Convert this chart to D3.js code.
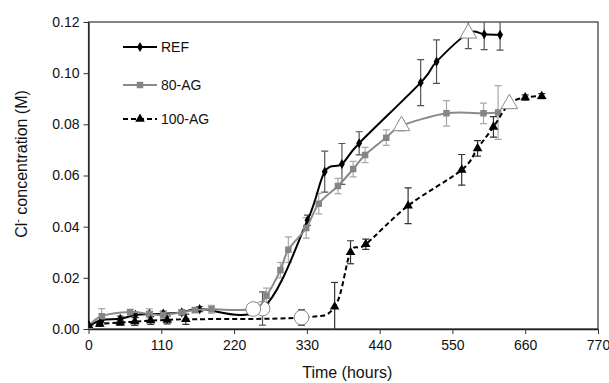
<!DOCTYPE html>
<html>
<head>
<meta charset="utf-8">
<script src="https://cdn.jsdelivr.net/npm/d3@7"></script>
<style>
  body { margin: 0; background: #fff; }
  text { font-family: "Liberation Sans", Arial, sans-serif; }
</style>
</head>
<body>
<div id="chart"></div>
<script>
// values: time (h), Cl- (M), +/- error
const refTime = [0, 20, 48, 71, 92, 113, 141, 168, 263, 331, 357, 383, 409, 502, 526, 574, 598, 622];
const refCl   = [0.001, 0.0035, 0.004, 0.0055, 0.0058, 0.006, 0.0065, 0.0078, 0.008, 0.0425, 0.0615, 0.0645, 0.0726, 0.0963, 0.1045, 0.1156, 0.1152, 0.115];
const refErr  = [0, 0.001, 0.001, 0.001, 0.001, 0.001, 0.001, 0.001, 0.0065, 0.002, 0.008, 0.008, 0.0045, 0.009, 0.0085, 0.006, 0.006, 0.006];

const ag80Time = [0, 20, 63, 92, 113, 141, 161, 186, 249, 269, 290, 302, 329, 348, 377, 400, 418, 450, 473, 541, 597, 619];
const ag80Cl   = [0.001, 0.005, 0.0066, 0.0059, 0.0055, 0.0065, 0.0074, 0.0077, 0.0078, 0.013, 0.023, 0.031, 0.0395, 0.049, 0.0559, 0.0625, 0.068, 0.0748, 0.0794, 0.0843, 0.0843, 0.0846];
const ag80Err  = [0, 0.003, 0.001, 0.002, 0.0015, 0.001, 0.001, 0.0015, 0.0015, 0.003, 0.003, 0.005, 0.004, 0.004, 0.003, 0.003, 0.003, 0.003, 0.002, 0.005, 0.004, 0.0105];

const ag100Time = [0, 17, 48, 70, 94, 119, 147, 322, 372, 396, 419, 483, 564, 588, 612, 636, 660, 685];
const ag100Cl   = [0.0015, 0.002, 0.0025, 0.0029, 0.0033, 0.0035, 0.0038, 0.0045, 0.0087, 0.030, 0.0331, 0.0482, 0.0622, 0.0706, 0.079, 0.088, 0.0905, 0.091];
const ag100Err  = [0, 0.001, 0.001, 0.0015, 0.0015, 0.0015, 0.002, 0.003, 0.0095, 0.0045, 0.002, 0.007, 0.006, 0.003, 0.004, 0, 0.001, 0.001];

// times where the point is drawn as an open marker
const refOpenCircle = [263];
const refOpenTriangle = [574];
const ag80OpenCircle = [249];
const ag80OpenTriangle = [473];
const ag100OpenCircle = [322];
const ag100OpenTriangle = [636];

const seriesNames = ["REF", "80-AG", "100-AG"];
const xTicks = [0, 110, 220, 330, 440, 550, 660, 770];
const yTicks = [0, 0.02, 0.04, 0.06, 0.08, 0.10, 0.12];

const W = 609, H = 383;
const margin = { top: 22, right: 11, bottom: 54, left: 88.5 };
const width = W - margin.left - margin.right,
      height = H - margin.top - margin.bottom;

const svg = d3.select("#chart").append("svg")
    .attr("width", W)
    .attr("height", H);

const g = svg.append("g")
    .attr("transform", `translate(${margin.left},${margin.top})`);

const x = d3.scaleLinear().domain([0, 770]).range([0, width]);
const y = d3.scaleLinear().domain([0, 0.12]).range([height, 0]);

g.append("clipPath").attr("id", "plot-clip")
    .append("rect").attr("x", 0).attr("y", 0).attr("width", width).attr("height", height);

// frame
g.append("rect")
    .attr("width", width).attr("height", height)
    .attr("fill", "none").attr("stroke", "#333").attr("stroke-width", 1.2);

const xAxis = g.append("g")
    .attr("transform", `translate(0,${height})`)
    .call(d3.axisBottom(x).tickValues(xTicks).tickSize(5).tickSizeOuter(0).tickPadding(6));
const yAxis = g.append("g")
    .call(d3.axisLeft(y).tickValues(yTicks).tickFormat(d3.format(".2f")).tickSize(5).tickSizeOuter(0).tickPadding(4));
[xAxis, yAxis].forEach(a => {
    a.select(".domain").attr("stroke", "#222").attr("stroke-width", 1.3);
    a.selectAll(".tick line").attr("stroke", "#333");
    a.selectAll("text").attr("font-size", 14).attr("fill", "#111")
        .style("font-family", "'Liberation Sans', Arial, sans-serif");
});

// axis titles
svg.append("text")
    .attr("x", margin.left + width / 2 + 4).attr("y", 378)
    .attr("text-anchor", "middle").attr("font-size", 16).attr("fill", "#111")
    .text("Time (hours)");

const yTitle = svg.append("text")
    .attr("transform", "translate(27,164) rotate(-90)")
    .attr("text-anchor", "middle").attr("font-size", 16).attr("fill", "#111");
yTitle.append("tspan").text("Cl");
yTitle.append("tspan").attr("dy", -6).attr("font-size", 11).text("-");
yTitle.append("tspan").attr("dy", 6).text(" concentration (M)");

function makeSeries(t, v, e, openC, openT) {
    return t.map((d, i) => ({
        t: d, v: v[i], e: e[i],
        open: openC.includes(d) ? "circle" : (openT.includes(d) ? "triangle" : null)
    }));
}

const series = [
    { name: seriesNames[0], data: makeSeries(refTime, refCl, refErr, refOpenCircle, refOpenTriangle),
      line: "#000", dash: null, errColor: "#555", marker: "diamond", fill: "#000" },
    { name: seriesNames[1], data: makeSeries(ag80Time, ag80Cl, ag80Err, ag80OpenCircle, ag80OpenTriangle),
      line: "#8a8a8a", dash: null, errColor: "#a8a8a8", marker: "square", fill: "#858585" },
    { name: seriesNames[2], data: makeSeries(ag100Time, ag100Cl, ag100Err, ag100OpenCircle, ag100OpenTriangle),
      line: "#000", dash: "5,3", errColor: "#333", marker: "triangle", fill: "#000" }
];

const plot = g.append("g").attr("clip-path", "url(#plot-clip)");

const line = d3.line()
    .x(d => x(d.t)).y(d => y(d.v))
    .curve(d3.curveCardinal.tension(0));

const symbolType = { diamond: d3.symbolDiamond, square: d3.symbolSquare, triangle: d3.symbolTriangle };
const symbolSize = { diamond: 30, square: 42, triangle: 40 };

// error bars first, then lines, then markers (drawn per series in order)
series.forEach(s => {
    const eb = plot.append("g").attr("stroke", s.errColor).attr("stroke-width", 1.2);
    const withErr = s.data.filter(d => d.e > 0);
    eb.selectAll("line.v").data(withErr).join("line")
        .attr("x1", d => x(d.t)).attr("x2", d => x(d.t))
        .attr("y1", d => y(d.v - d.e)).attr("y2", d => y(d.v + d.e));
    eb.selectAll("line.top").data(withErr).join("line")
        .attr("x1", d => x(d.t) - 3.5).attr("x2", d => x(d.t) + 3.5)
        .attr("y1", d => y(d.v + d.e)).attr("y2", d => y(d.v + d.e));
    eb.selectAll("line.bot").data(withErr).join("line")
        .attr("x1", d => x(d.t) - 3.5).attr("x2", d => x(d.t) + 3.5)
        .attr("y1", d => y(d.v - d.e)).attr("y2", d => y(d.v - d.e));
});

series.forEach(s => {
    plot.append("path")
        .datum(s.data)
        .attr("fill", "none")
        .attr("stroke", s.line)
        .attr("stroke-width", 2)
        .attr("stroke-dasharray", s.dash)
        .attr("d", line);

    plot.append("g").selectAll("path")
        .data(s.data.filter(d => !d.open))
        .join("path")
        .attr("transform", d => `translate(${x(d.t)},${y(d.v)})`)
        .attr("d", d3.symbol(symbolType[s.marker], symbolSize[s.marker]))
        .attr("fill", s.fill);

    plot.append("g").selectAll("path")
        .data(s.data.filter(d => d.open))
        .join("path")
        .attr("transform", d => `translate(${x(d.t)},${y(d.v)})`)
        .attr("d", d => d.open === "circle"
            ? d3.symbol(d3.symbolCircle, 170)()
            : d3.symbol(d3.symbolTriangle, 120)())
        .attr("fill", "#fff")
        .attr("stroke", "#888")
        .attr("stroke-width", 1);
});

// legend
const legend = svg.append("g");
const legendY = [47, 85, 119];
series.forEach((s, i) => {
    const lg = legend.append("g").attr("transform", `translate(0,${legendY[i]})`);
    lg.append("line")
        .attr("x1", 123).attr("x2", 157).attr("y1", 0).attr("y2", 0)
        .attr("stroke", s.line).attr("stroke-width", 2)
        .attr("stroke-dasharray", s.dash);
    lg.append("path")
        .attr("transform", "translate(140,0)")
        .attr("d", d3.symbol(symbolType[s.marker], symbolSize[s.marker]))
        .attr("fill", s.fill);
    lg.append("text")
        .attr("x", 161).attr("y", 5)
        .attr("font-size", 14).attr("fill", "#111")
        .text(s.name);
});
</script>
</body>
</html>
